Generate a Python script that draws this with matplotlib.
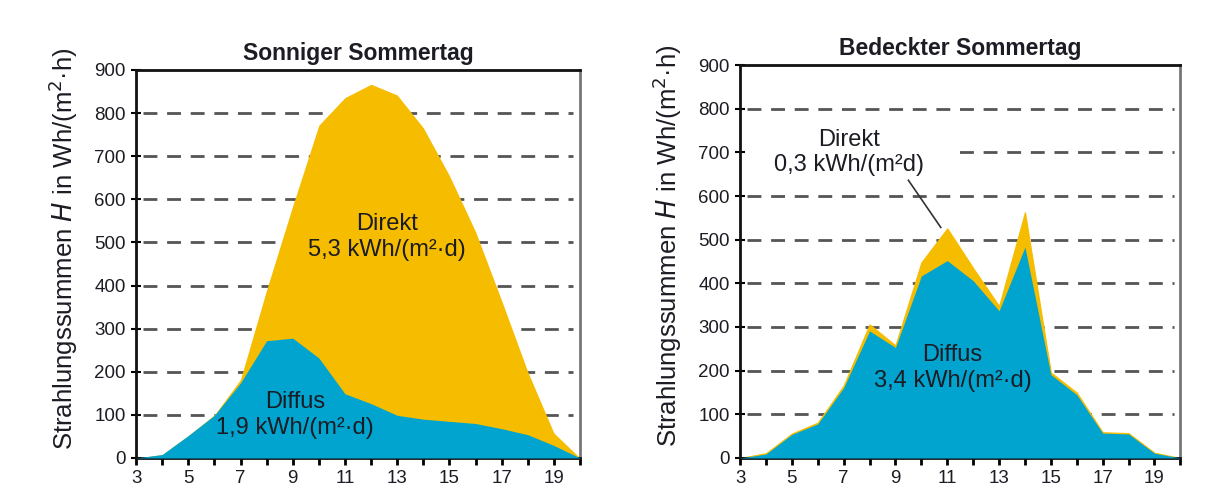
import matplotlib.pyplot as plt

plt.rcParams['font.family'] = ['Liberation Sans', 'DejaVu Sans']

# Stunden
HOURS = list(range(3, 21))

# Sonniger Sommertag, Wh/(m2 h)
SUN_DIFFUS = [0, 8, 52, 99, 174, 272, 278, 232, 149, 126, 99, 90, 85, 80, 68, 54, 29, 0]
SUN_TOTAL = [0, 8, 52, 100, 182, 390, 585, 772, 836, 867, 842, 766, 655, 525, 365, 200, 58, 0]

# Bedeckter Sommertag, Wh/(m2 h)
CLOUD_DIFFUS = [0, 9, 54, 78, 161, 291, 253, 417, 452, 406, 337, 483, 191, 145, 57, 55, 11, 0]
CLOUD_TOTAL = [0, 11, 56, 81, 166, 306, 258, 448, 526, 435, 348, 563, 196, 150, 59, 57, 12, 0]

TITLES = ["Sonniger Sommertag", "Bedeckter Sommertag"]
Y_LABEL = "Strahlungssummen $\\mathit{H}$ in Wh/(m$^2$·h)"
YTICKS = [0, 100, 200, 300, 400, 500, 600, 700, 800, 900]
XTICK_LABELS = [str(h) if h % 2 == 1 and h < 20 else "" for h in HOURS]

YELLOW = '#F5BC00'
BLUE = '#00A4CE'
TEXT = '#1c1c24'


def setup_axes(ax, title):
    ax.set_xlim(3, 20)
    ax.set_ylim(0, 900)
    ax.set_xticks(HOURS)
    ax.set_xticklabels(XTICK_LABELS)
    ax.set_yticks(YTICKS)
    for y in YTICKS[1:-1]:
        ax.axhline(y, xmin=0.015, xmax=0.985, color='#555555', lw=2,
                   dashes=(5, 3.5), zorder=1)
    ax.tick_params(axis='x', direction='out', length=5, width=2,
                   labelsize=13.5, colors='black', labelcolor=TEXT, pad=4)
    ax.tick_params(axis='y', direction='inout', length=7, width=1.5,
                   labelsize=13.5, colors='black', labelcolor=TEXT, pad=4)
    for s in ['left', 'bottom', 'top']:
        ax.spines[s].set_linewidth(2)
        ax.spines[s].set_color('#111111')
    ax.spines['right'].set_linewidth(2)
    ax.spines['right'].set_color('#777777')
    ax.set_title(title, fontsize=16.5, fontweight='bold', color=TEXT, pad=7)
    ax.set_ylabel(Y_LABEL, fontsize=18.5, color=TEXT)
    ax.yaxis.set_label_coords(-0.127, 0.54)


fig = plt.figure(figsize=(12.19, 4.94), dpi=100)
ax1 = fig.add_axes([0.1116, 0.0729, 0.3642, 0.7854])
ax2 = fig.add_axes([0.6071, 0.0729, 0.3612, 0.7955])

# links
setup_axes(ax1, TITLES[0])
ax1.fill_between(HOURS, 0, SUN_TOTAL, color=YELLOW, lw=0, zorder=2)
ax1.fill_between(HOURS, 0, SUN_DIFFUS, color=BLUE, lw=0, zorder=3)
ax1.text(12.6, 513, "Direkt\n5,3 kWh/(m²·d)", ha='center', va='center',
         fontsize=17, color=TEXT, linespacing=1.2, zorder=4)
ax1.text(9.1, 100, "Diffus\n1,9 kWh/(m²·d)", ha='center', va='center',
         fontsize=17, color=TEXT, linespacing=1.2, zorder=4)

# rechts
setup_axes(ax2, TITLES[1])
ax2.axhspan(665, 735, xmin=0.01, xmax=0.49, color='white', lw=0, zorder=1.5)
ax2.fill_between(HOURS, 0, CLOUD_TOTAL, color=YELLOW, lw=0.8, edgecolor=YELLOW, zorder=2)
ax2.fill_between(HOURS, 0, CLOUD_DIFFUS, color=BLUE, lw=0, zorder=3)
ax2.text(7.2, 700, "Direkt\n0,3 kWh/(m²d)", ha='center', va='center',
         fontsize=17, color=TEXT, linespacing=1.2, zorder=4)
ax2.plot([9.5, 10.75], [636, 528], color='#333333', lw=1.2, zorder=4)
ax2.text(11.2, 206, "Diffus\n3,4 kWh/(m²·d)", ha='center', va='center',
         fontsize=17, color=TEXT, linespacing=1.2, zorder=4)

plt.savefig("out.png", dpi=100)
plt.close()
